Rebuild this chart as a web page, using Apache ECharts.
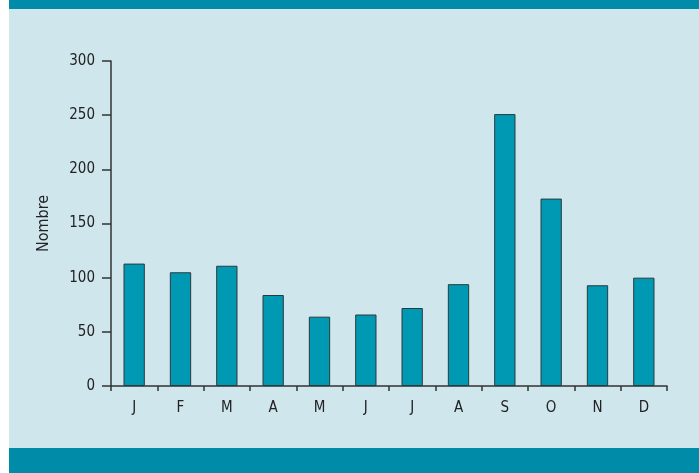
<!DOCTYPE html>
<html style="height: 100%">
    <head>
        <title>Nombre par mois</title>
        <script type="text/javascript" src="https://fastly.jsdelivr.net/npm/echarts@6.0.0/dist/echarts.min.js"></script>
    </head>
    <body style="height: 100%; margin: 0">
        <div id="target" style="width: 699px; height: 473px"></div>

<script>
// months and counts
let months = ["J", "F", "M", "A", "M", "J", "J", "A", "S", "O", "N", "D"];
let counts = [113, 105, 111, 84, 64, 66, 72, 94, 251, 173, 93, 100];
let yTicks = [0, 50, 100, 150, 200, 250, 300];

let chart = echarts.init(document.getElementById('target'));

let fontFamily = '"Liberation Sans Narrow", "DejaVu Sans Condensed", "Open Sans", sans-serif';

let option = {
    backgroundColor: "#ffffff",
    animation: false,

    // panel, top and bottom bands
    graphic: [
        { type: "rect", z: -10, shape: { x: 9, y: 0, width: 690, height: 473 }, style: { fill: "#cfe6ed" } },
        { type: "rect", z: -9, shape: { x: 9, y: 0, width: 690, height: 9 }, style: { fill: "#008ca8" } },
        { type: "rect", z: -9, shape: { x: 9, y: 448, width: 690, height: 25 }, style: { fill: "#008ca8" } },
    ],

    grid: {
        left: 111,
        right: 32,
        top: 61,
        bottom: 87,
    },

    xAxis: {
        type: "category",
        data: months,
        axisLine: { lineStyle: { color: "#333333", width: 1.5 } },
        axisTick: { show: true, length: 5, lineStyle: { color: "#333333", width: 1.5 } },
        axisLabel: { color: "#222222", fontSize: 15, fontFamily: fontFamily, margin: 9 },
    },
    yAxis: {
        type: "value",
        min: yTicks[0],
        max: yTicks[yTicks.length - 1],
        interval: 50,
        name: "Nombre",
        nameLocation: "middle",
        nameGap: 53,
        nameTextStyle: { color: "#222222", fontSize: 16, fontFamily: fontFamily },
        splitLine: { show: false },
        axisLine: { show: true, lineStyle: { color: "#333333", width: 1.5 } },
        axisTick: { show: true, length: 9, lineStyle: { color: "#333333", width: 1.5 } },
        axisLabel: { color: "#222222", fontSize: 15, fontFamily: fontFamily, margin: 16 },
    },

    series: [
        {
            type: "bar",
            data: counts,
            barWidth: "46%",
            itemStyle: {
                color: "#0099b3",
                borderColor: "#2a3a3c",
                borderWidth: 1,
            },
        },
    ],
};

chart.setOption(option, true);
</script>
    </body>
</html>
